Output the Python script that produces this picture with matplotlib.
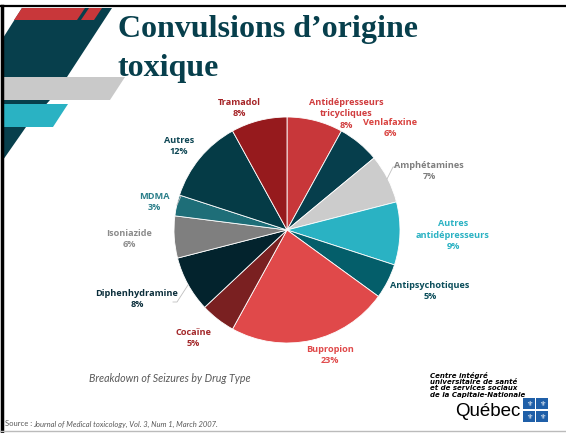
import matplotlib
matplotlib.use("Agg")
import matplotlib.pyplot as plt
from matplotlib.patches import Polygon, Rectangle

# data
labels = ["Antidépresseurs\ntricycliques", "Venlafaxine", "Amphétamines",
          "Autres\nantidépresseurs", "Antipsychotiques", "Bupropion", "Cocaïne",
          "Diphenhydramine", "Isoniazide", "MDMA", "Autres", "Tramadol"]
shares = [8, 6, 7, 9, 5, 23, 5, 8, 6, 3, 12, 8]

# styles / layout
slice_colors = ["#C8373A", "#063E4C", "#CCCCCC", "#2AB2C3", "#045E6A", "#E0494A",
                "#7A2021", "#03232D", "#7F7F7F", "#1E6E78", "#053B46", "#961A1D"]
text_colors = ["#D03C3E", "#D9423F", "#7F7F7F", "#2AB2C3", "#0A4D5A", "#E0494A",
               "#A3282A", "#0B2E3B", "#8C8C8C", "#2B7F8A", "#0D4654", "#A52326"]
label_pos = [(346, 114), (390, 128), (429, 171), (453, 235), (430, 291), (330, 355),
             (193, 338), (137, 299), (129, 239), (154, 202), (179, 146), (239, 108)]
leaders = {2: [(387, 179), (393, 167), (397, 167)],
           7: [(188, 285), (177, 302), (173, 302)],
           9: [(177, 205), (181, 196)]}

W, H = 566, 433
CX, CY, R = 287, 230, 113
DARK = "#073F4C"

fig = plt.figure(figsize=(W / 100, H / 100), dpi=100)

bg = fig.add_axes([0, 0, 1, 1])
bg.set_xlim(0, W); bg.set_ylim(H, 0); bg.axis("off")

# decorative shapes top-left
bg.add_patch(Polygon([(3, 38), (22, 8), (112, 8), (67, 77), (50, 100),
                      (26, 127), (3, 160)], closed=True, color=DARK, lw=0))
bg.add_patch(Polygon([(22, 8), (85, 8), (77, 20), (14, 20)], closed=True,
                     color="#C8373A", lw=0))
bg.add_patch(Polygon([(89, 8), (102, 8), (94, 20), (81, 20)], closed=True,
                     color="#C8373A", lw=0))
bg.add_patch(Polygon([(3, 77), (125, 77), (110, 100), (3, 100)], closed=True,
                     color="#C9C9C9", lw=0))
bg.add_patch(Polygon([(3, 104), (68, 104), (53, 127), (3, 127)], closed=True,
                     color="#2AB2C3", lw=0))
# slide border
bg.plot([0, W], [6, 6], color="black", lw=1.6)
bg.plot([1.5, 1.5], [6, H], color="black", lw=2.5)
bg.plot([0, W], [431, 431], color="#BBBBBB", lw=1)

# title
bg.text(118, 37, "Convulsions d’origine", fontsize=23, fontweight="bold",
        family="Liberation Serif", color=DARK, va="baseline", ha="left")
bg.text(118, 76, "toxique", fontsize=23, fontweight="bold",
        family="Liberation Serif", color=DARK, va="baseline", ha="left")

# pie
pax = fig.add_axes([(CX - R) / W, (H - CY - R) / H, 2 * R / W, 2 * R / H])
pax.pie(shares, colors=slice_colors, startangle=90, counterclock=False,
        radius=1, wedgeprops=dict(edgecolor="white", linewidth=0.6))
pax.set_xlim(-1, 1); pax.set_ylim(-1, 1)
pax.set_aspect("auto")
pax.axis("off")

top = fig.add_axes([0, 0, 1, 1])
top.set_xlim(0, W); top.set_ylim(H, 0); top.axis("off")
top.patch.set_alpha(0)

for i, (lab, v) in enumerate(zip(labels, shares)):
    x, y = label_pos[i]
    top.text(x, y, f"{lab}\n{v}%", ha="center", va="center", fontsize=6.6,
             fontweight="bold", family="Open Sans", color=text_colors[i],
             linespacing=1.35)
for i, pts in leaders.items():
    xs, ys = zip(*pts)
    top.plot(xs, ys, color="#BFBFBF", lw=0.6)

# caption and source
top.text(170, 379, "Breakdown of Seizures by Drug Type", ha="center", va="center",
         fontsize=7.7, style="italic", family="Lato", color="#595959")
top.text(5, 424, "Source :", ha="left", va="center", fontsize=5.5,
         family="Lato", color="#595959")
top.text(33, 424, "Journal of Medical toxicology, Vol. 3, Num 1, March 2007.",
         ha="left", va="center", fontsize=5.5, style="italic", family="Lato",
         color="#595959")

# logo
top.text(430, 385, "Centre intégré\nuniversitaire de santé\net de services sociaux\n"
         "de la Capitale-Nationale", ha="left", va="center", fontsize=5,
         fontweight="bold", style="italic", family="DejaVu Sans", color="black",
         linespacing=1.0)
top.text(520, 412, "Québec", ha="right", va="center", fontsize=13.5,
         family="Liberation Sans", color="black")
for qx, qy in [(523, 398), (536, 398), (523, 411), (536, 411)]:
    top.add_patch(Rectangle((qx, qy), 11.5, 11, color="#1F5FA8", lw=0))
    top.text(qx + 5.75, qy + 5.8, "⚜", ha="center", va="center", fontsize=5,
             color="white", family="DejaVu Sans")

fig.savefig("out.png", dpi=100)
